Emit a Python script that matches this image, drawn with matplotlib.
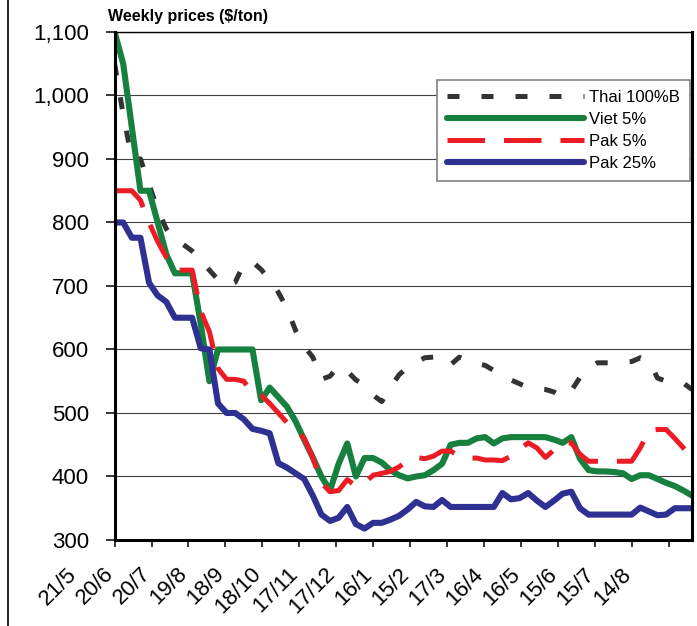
import matplotlib
matplotlib.use("Agg")
import matplotlib.pyplot as plt
from matplotlib.lines import Line2D
from matplotlib.transforms import ScaledTranslation, blended_transform_factory
import pandas as pd

plt.rcParams['font.family'] = ['Liberation Sans', 'DejaVu Sans']

# weekly quotes, starting 21/5
weeks = pd.date_range('2008-05-21', periods=68, freq='7D')

thai = [1050, 970, 900, 900, 860, 820, 790, 772, 765, 755, 742, 725, 710, 701, 706, 735,
        738, 726, 710, 690, 665, 630, 605, 588, 553, 558, 574, 566, 552, 544, 528, 518,
        540, 560, 572, 580, 587, 588, 588, 576, 588, 581, 578, 575, 567, 558, 552, 546,
        540, 538, 537, 533, 525, 535, 556, 570, 579, 579, 579, 580, 581, 587, 582, 555,
        550, 550, 547, 537]
viet = [1100, 1050, 950, 850, 850, 800, 750, 720, 720, 720, 640, 550, 600, 600, 600, 600,
        600, 520, 540, 525, 510, 487, 458, 430, 400, 378, 420, 452, 400, 429, 429, 422,
        410, 402, 397, 400, 402, 410, 420, 450, 453, 453, 460, 462, 452, 460, 462, 462,
        462, 462, 462, 458, 453, 462, 428, 410, 408, 408, 407, 405, 396, 402, 402, 396,
        390, 385, 378, 370]
pak5 = [850, 850, 850, 835, 800, 770, 745, 725, 725, 725, 660, 628, 570, 553, 553, 550,
        530, 528, 515, 500, 485, 475, 460, 430, 390, 376, 378, 395, 385, 390, 402, 405,
        408, 415, 425, 430, 428, 432, 440, 440, 432, 429, 429, 426, 426, 425, 432, 443,
        453, 445, 430, 442, 453, 453, 435, 424, 424, 424, 424, 424, 424, 445, 472, 474,
        474, 460, 445, 430]
pak25 = [800, 800, 776, 776, 705, 685, 675, 650, 650, 650, 602, 600, 515, 500, 500, 490,
         475, 472, 468, 421, 414, 405, 396, 370, 340, 330, 335, 352, 325, 318, 327, 327,
         332, 338, 348, 360, 353, 352, 363, 352, 352, 352, 352, 352, 352, 374, 364, 366,
         374, 362, 352, 362, 373, 376, 350, 340, 340, 340, 340, 340, 340, 351, 345, 339,
         340, 350, 350, 350]

tick_labels = ['21/5', '20/6', '20/7', '19/8', '18/9', '18/10', '17/11', '17/12',
               '16/1', '15/2', '17/3', '16/4', '16/5', '15/6', '15/7', '14/8']
tick_dates = pd.date_range('2008-05-21', periods=len(tick_labels), freq='30D')
y_ticks = [300, 400, 500, 600, 700, 800, 900, 1000, 1100]

fig = plt.figure(figsize=(6.97, 6.26), dpi=100)
ax = fig.add_axes([0.1644, 0.1374, 0.8284, 0.8115])

ax.plot(weeks, thai, color='#333333', lw=3.6, dashes=(2.4, 4.4), dash_capstyle='butt',
        label='Thai 100%B')
ax.plot(weeks, viet, color='#16803f', lw=4.4, solid_joinstyle='round', solid_capstyle='round',
        label='Viet 5%')
ax.plot(weeks, pak5, color='#ed1c24', lw=3.6, dashes=(7.5, 3.8), dash_capstyle='butt',
        label='Pak 5%')
ax.plot(weeks, pak25, color='#2e3192', lw=4.4, solid_joinstyle='round', solid_capstyle='round',
        label='Pak 25%')

ax.set_xlim(weeks[0], weeks[-1])
ax.set_ylim(300, 1100)
ax.set_yticks(y_ticks)
ax.set_yticklabels([f'{v:,}' for v in y_ticks])
ax.yaxis.grid(True, color='#404040', lw=0.8)
ax.set_axisbelow(True)

for side in ['left', 'bottom', 'right']:
    ax.spines[side].set_linewidth(2.2)
    ax.spines[side].set_color('black')
ax.spines['top'].set_linewidth(1.0)

ax.tick_params(axis='y', length=6.5, width=1.1, pad=12, labelsize=16)
ax.set_xticks(tick_dates)
ax.set_xticklabels([])
ax.tick_params(axis='x', length=5, width=1.1)

# date labels, slanted, sitting to the left of their ticks
trans = blended_transform_factory(ax.transData, ax.transAxes) + \
    ScaledTranslation(-0.41, -0.31, fig.dpi_scale_trans)
for d, lab in zip(tick_dates, tick_labels):
    ax.text(d, 0, lab, transform=trans, rotation=45, ha='right', va='center',
            rotation_mode='anchor', fontsize=16, clip_on=False)

leg = ax.legend(loc='upper right', bbox_to_anchor=(0.9965, 0.9055), borderaxespad=0,
                fontsize=12, handlelength=8.2, handletextpad=0.3, borderpad=0.6,
                labelspacing=0.42, fancybox=False, framealpha=1)
leg.get_frame().set_edgecolor('#808080')
leg.get_frame().set_linewidth(1.2)

fig.text(108 / 697, 1 - 17 / 626, 'Weekly prices ($/ton)', fontsize=11.5,
         fontweight='bold', ha='left', va='center')

fig.add_artist(Line2D([7.5 / 697, 7.5 / 697], [0, 1], color='black', lw=1.2,
                      transform=fig.transFigure))

fig.savefig('out.png', dpi=100)
